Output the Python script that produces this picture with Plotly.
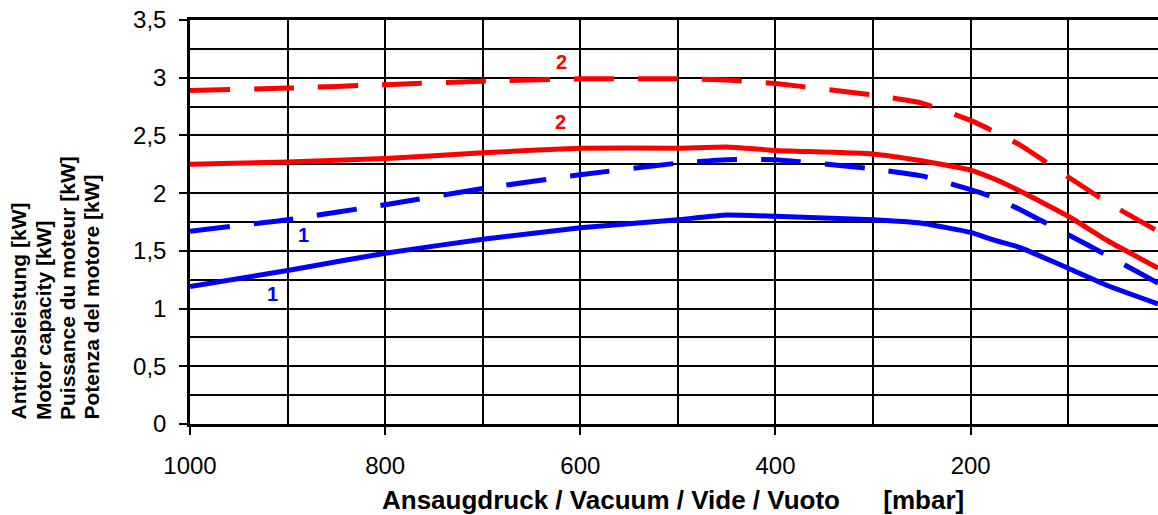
import plotly.graph_objects as go

# ---- data ----
pressure = [1000, 900, 800, 700, 600, 500, 450, 400, 300, 250, 200, 175, 150, 100, 60, 8]
curve2_dashed = [2.89, 2.91, 2.94, 2.97, 2.99, 2.99, 2.98, 2.95, 2.85, 2.78, 2.63, 2.53, 2.42, 2.14, 1.92, 1.67]
curve2_solid = [2.25, 2.27, 2.30, 2.35, 2.39, 2.39, 2.40, 2.37, 2.34, 2.28, 2.20, 2.12, 2.02, 1.80, 1.59, 1.35]
curve1_dashed = [1.67, 1.77, 1.90, 2.04, 2.16, 2.26, 2.29, 2.29, 2.21, 2.15, 2.03, 1.96, 1.86, 1.64, 1.46, 1.22]
curve1_solid = [1.19, 1.33, 1.48, 1.60, 1.70, 1.77, 1.81, 1.80, 1.77, 1.74, 1.66, 1.59, 1.53, 1.35, 1.20, 1.04]

x_tickvals = [1000, 800, 600, 400, 200]
x_ticktext = ["1000", "800", "600", "400", "200"]
y_tickvals = [0, 0.5, 1, 1.5, 2, 2.5, 3, 3.5]
y_ticktext = ["0", "0,5", "1", "1,5", "2", "2,5", "3", "3,5"]

labels = [  # (text, x, y, color)
    ("2", 619, 3.14, "#ff0000"),
    ("2", 620, 2.62, "#ff0000"),
    ("1", 884, 1.635, "#0000ff"),
    ("1", 915, 1.13, "#0000ff"),
]

y_title_lines = ["Antriebsleistung [kW]", "Motor capacity [kW]",
                 "Puissance du moteur [kW]", "Potenza del motore [kW]"]
x_title = "Ansaugdruck / Vacuum / Vide / Vuoto" + "\u00a0" * 6 + "[mbar]"

RED = "#ff0000"
BLUE = "#0000ff"
FONT = "Liberation Sans, Arial, sans-serif"

fig = go.Figure()
series = [
    (curve2_dashed, RED, "40px,24px"),
    (curve2_solid, RED, "solid"),
    (curve1_dashed, BLUE, "40px,24px"),
    (curve1_solid, BLUE, "solid"),
]
for ys, col, dash in series:
    fig.add_trace(go.Scatter(
        x=pressure, y=ys, mode="lines",
        line=dict(color=col, width=5, dash=dash, shape="spline", smoothing=0.35),
        showlegend=False, hoverinfo="skip", cliponaxis=True,
    ))

for txt, x, y, col in labels:
    fig.add_annotation(x=x, y=y, text=f"<b>{txt}</b>", showarrow=False,
                       font=dict(family=FONT, size=20, color=col))

W, H = 1158, 515
L, R, T, B = 190, 0, 20, 91
pw = W - L - R
ph = H - T - B

def px_x(page_x):
    return (page_x - L) / pw

def px_y(page_y):
    return (H - B - page_y) / ph

# y-axis title: four rotated lines
col_x = [18, 43, 67, 91]
for line, px in zip(y_title_lines, col_x):
    fig.add_annotation(
        xref="paper", yref="paper", x=px_x(px), y=px_y(422),
        xanchor="center", yanchor="bottom",
        text=f"<b>{line}</b>", textangle=-90, showarrow=False,
        font=dict(family=FONT, size=21, color="black"),
    )

# x-axis title
fig.add_annotation(
    xref="paper", yref="paper", x=px_x(673), y=px_y(500),
    xanchor="center", yanchor="middle", showarrow=False,
    text=f"<b>{x_title}</b>",
    font=dict(family=FONT, size=26, color="black"),
)

fig.update_layout(
    width=W, height=H,
    margin=dict(l=L, r=R, t=T, b=B, pad=0),
    plot_bgcolor="white", paper_bgcolor="white",
    font=dict(family=FONT, size=24, color="black"),
    showlegend=False,
    xaxis=dict(
        range=[1000, 8], tickvals=x_tickvals, ticktext=x_ticktext,
        ticks="outside", ticklen=8, tickwidth=1.5, tickcolor="black",
        showgrid=True, gridcolor="black", gridwidth=1.5,
        minor=dict(dtick=100, tick0=0, showgrid=True, gridcolor="black", gridwidth=1.5, ticks=""),
        showline=True, linecolor="black", linewidth=3, mirror=True,
        zeroline=False, ticklabelstandoff=10, ticklabeloverflow="allow",
        tickfont=dict(family=FONT, size=24, color="black"),
    ),
    yaxis=dict(
        range=[0, 3.5], tickvals=y_tickvals, ticktext=y_ticktext,
        ticks="outside", ticklen=8, tickwidth=1.5, tickcolor="black",
        showgrid=True, gridcolor="black", gridwidth=1.5,
        minor=dict(dtick=0.25, tick0=0, showgrid=True, gridcolor="black", gridwidth=1.5, ticks=""),
        showline=True, linecolor="black", linewidth=2.5,
        zeroline=False, ticklabelstandoff=8, ticklabeloverflow="allow",
        tickfont=dict(family=FONT, size=24, color="black"),
    ),
)

fig.write_html(
    "out.html",
    config={"displayModeBar": False},
    post_script="document.body.style.margin='0';document.body.style.overflow='hidden';",
)
